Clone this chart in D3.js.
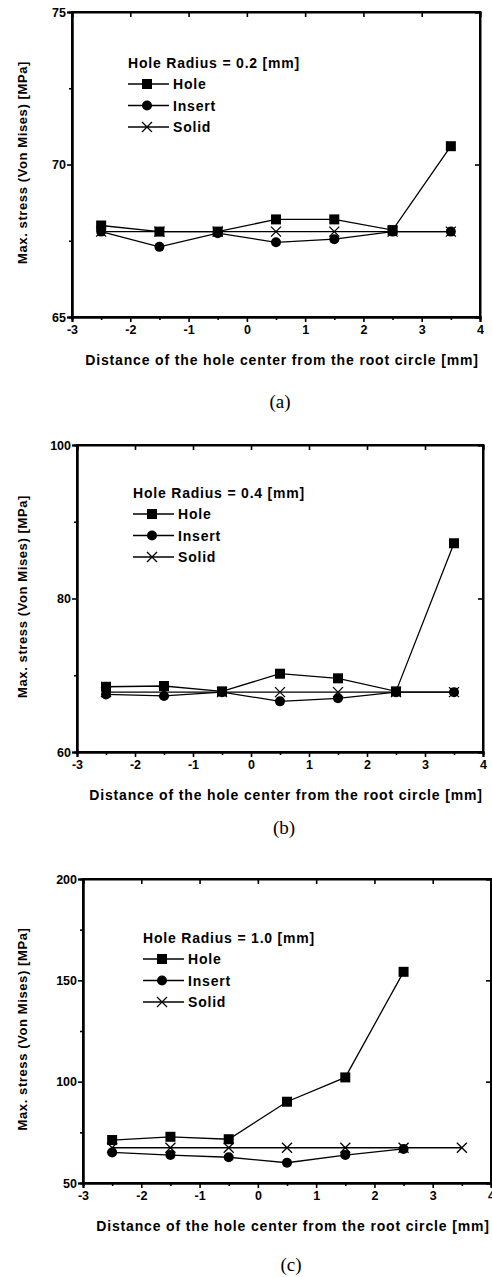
<!DOCTYPE html>
<html>
<head>
<meta charset="utf-8">
<script src="https://cdn.jsdelivr.net/npm/d3@7"></script>
<style>
  body { margin: 0; background: #fff; }
  svg { display: block; }
  text { font-family: "Liberation Sans", Arial, sans-serif; font-weight: bold; fill: #000; }
  .caption { font-family: "Liberation Serif", "Times New Roman", serif; font-weight: normal; font-size: 19px; }
</style>
</head>
<body>
<div id="chart"></div>
<script>
// distance of the hole centre from the root circle [mm]
var xPositions = [-2.5, -1.5, -0.5, 0.5, 1.5, 2.5, 3.5];
var xTicks = [-3, -2, -1, 0, 1, 2, 3, 4];
var seriesNames = ['Hole', 'Insert', 'Solid'];

// (a) hole radius 0.2 mm
var holeA   = [68.0, 67.8, 67.8, 68.2, 68.2, 67.85, 70.6];
var insertA = [67.8, 67.3, 67.75, 67.45, 67.55, 67.8, 67.8];
var solidA  = [67.8, 67.8, 67.8, 67.8, 67.8, 67.8, 67.8];
var yTicksA = [65, 70, 75];

// (b) hole radius 0.4 mm
var holeB   = [68.5, 68.6, 67.9, 70.2, 69.6, 67.9, 87.2];
var insertB = [67.5, 67.3, 67.8, 66.6, 67.0, 67.8, 67.8];
var solidB  = [67.8, 67.8, 67.8, 67.8, 67.8, 67.8, 67.8];
var yTicksB = [60, 80, 100];

// (c) hole radius 1.0 mm (no hole / insert value at 3.5)
var holeC   = [71.2, 72.8, 71.6, 90.1, 102.1, 154.2];
var insertC = [65.1, 63.8, 62.7, 60.0, 63.8, 66.8];
var solidC  = [67.4, 67.4, 67.4, 67.4, 67.4, 67.4, 67.4];
var yTicksC = [50, 100, 150, 200];

var W = 492, H = 1277;
var svg = d3.select('#chart').append('svg').attr('width', W).attr('height', H);

var panels = [
  {label: '(a)', radius: '0.2', hole: holeA, insert: insertA, solid: solidA, yTicks: yTicksA,
   left: 72, right: 480, top: 12, bottom: 317, legX: 128, legY: 63, captionY: 408},
  {label: '(b)', radius: '0.4', hole: holeB, insert: insertB, solid: solidB, yTicks: yTicksB,
   left: 77, right: 483, top: 445, bottom: 752, legX: 133, legY: 493, captionY: 834},
  {label: '(c)', radius: '1.0', hole: holeC, insert: insertC, solid: solidC, yTicks: yTicksC,
   left: 83, right: 491, top: 879, bottom: 1183, legX: 143, legY: 938, captionY: 1271}
];

function pairs(vals){
  return vals.map(function(v, i){ return [xPositions[i], v]; });
}

function drawMarker(g, type, x, y){
  if(type == 'Hole'){
    g.append('rect').attr('x', x - 5).attr('y', y - 5).attr('width', 10).attr('height', 10).attr('fill', '#000');
  }else if(type == 'Insert'){
    g.append('circle').attr('cx', x).attr('cy', y).attr('r', 5).attr('fill', '#000');
  }else{
    g.append('path').attr('d', 'M' + (x-5) + ',' + (y-5) + 'L' + (x+5) + ',' + (y+5) + 'M' + (x+5) + ',' + (y-5) + 'L' + (x-5) + ',' + (y+5))
      .attr('stroke', '#000').attr('stroke-width', 1.3).attr('fill', 'none');
  }
}

// plain hyphen for negatives, as in the original
function plain(d){ return String(d); }

panels.forEach(function(p){
  var yDom = d3.extent(p.yTicks);
  var x = d3.scaleLinear().domain([-3, 4]).range([p.left, p.right]);
  var y = d3.scaleLinear().domain(yDom).range([p.bottom, p.top]);
  var step = p.yTicks[1] - p.yTicks[0];
  var yMinor = d3.range(yDom[0] + step/2, yDom[1], step);
  var xMinor = d3.range(-2.5, 4, 1);

  var g = svg.append('g');

  // bottom axis: ticks outward
  g.append('g').attr('transform', 'translate(0,' + p.bottom + ')')
    .call(d3.axisBottom(x).tickValues(xTicks).tickSize(5).tickPadding(3).tickFormat(plain));
  g.append('g').attr('transform', 'translate(0,' + p.bottom + ')')
    .call(d3.axisBottom(x).tickValues(xMinor).tickSize(3).tickFormat(''));
  // left axis: ticks outward
  g.append('g').attr('transform', 'translate(' + p.left + ',0)')
    .call(d3.axisLeft(y).tickValues(p.yTicks).tickSize(5).tickPadding(1).tickFormat(plain));
  g.append('g').attr('transform', 'translate(' + p.left + ',0)')
    .call(d3.axisLeft(y).tickValues(yMinor).tickSize(3).tickFormat(''));
  // top and right: ticks inward
  g.append('g').attr('transform', 'translate(0,' + p.top + ')')
    .call(d3.axisTop(x).tickValues(xTicks).tickSize(-5).tickFormat(''));
  g.append('g').attr('transform', 'translate(' + p.right + ',0)')
    .call(d3.axisRight(y).tickValues(p.yTicks).tickSize(-5).tickFormat(''));

  g.selectAll('.domain').attr('stroke', '#000').attr('stroke-width', 2);
  g.selectAll('.tick line').attr('stroke', '#000').attr('stroke-width', 1.6);
  g.selectAll('.tick text')
    .style('font-size', '12.5px')
    .style('font-family', '"Liberation Sans", Arial, sans-serif')
    .style('font-weight', 'bold');

  // frame
  g.append('rect').attr('x', p.left).attr('y', p.top).attr('width', p.right - p.left).attr('height', p.bottom - p.top)
    .attr('fill', 'none').attr('stroke', '#000').attr('stroke-width', 2);

  // axis titles
  g.append('text').attr('x', (p.left + p.right) / 2 + 6).attr('y', p.bottom + 48)
    .attr('text-anchor', 'middle').attr('font-size', 14).attr('letter-spacing', 0.85)
    .text('Distance of the hole center from the root circle [mm]');
  g.append('text').attr('transform', 'translate(' + 27 + ',' + ((p.top + p.bottom) / 2 - 2) + ') rotate(-90)')
    .attr('text-anchor', 'middle').attr('font-size', 13).attr('letter-spacing', 0.6)
    .text('Max. stress (Von Mises) [MPa]');

  // series
  var line = d3.line().x(function(d){ return x(d[0]); }).y(function(d){ return y(d[1]); });
  var series = {Hole: p.hole, Insert: p.insert, Solid: p.solid};
  ['Solid', 'Insert', 'Hole'].forEach(function(name){
    var pts = pairs(series[name]);
    g.append('path').attr('d', line(pts)).attr('fill', 'none').attr('stroke', '#000').attr('stroke-width', 1.3);
    pts.forEach(function(d){ drawMarker(g, name, x(d[0]), y(d[1])); });
  });

  // legend
  g.append('text').attr('x', p.legX).attr('y', p.legY + 5).attr('font-size', 14).attr('letter-spacing', 0.8)
    .text('Hole Radius = ' + p.radius + ' [mm]');
  seriesNames.forEach(function(name, i){
    var ly = p.legY + 21 + i * 21.5;
    g.append('line').attr('x1', p.legX).attr('x2', p.legX + 41).attr('y1', ly).attr('y2', ly)
      .attr('stroke', '#000').attr('stroke-width', 1.3);
    drawMarker(g, name, p.legX + 19, ly);
    g.append('text').attr('x', p.legX + 45).attr('y', ly + 5).attr('font-size', 14).attr('letter-spacing', 0.8).text(name);
  });

  // caption
  svg.append('text').attr('class', 'caption').attr('x', (p.left + p.right) / 2 + 4).attr('y', p.captionY)
    .attr('text-anchor', 'middle').text(p.label);
});
</script>
</body>
</html>
